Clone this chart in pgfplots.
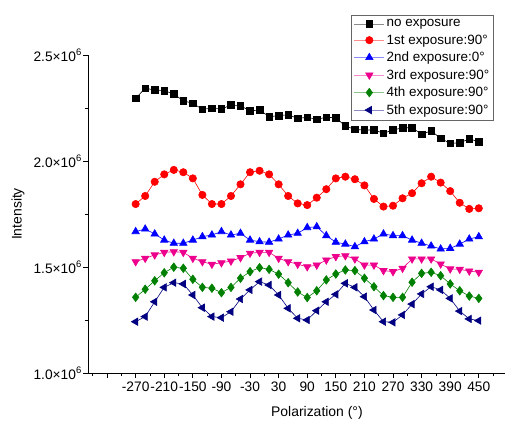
\documentclass[border=0pt]{standalone}
\usepackage{fontspec}
\setmainfont{Liberation Sans}
\usepackage{pgfplots}
\pgfplotsset{compat=1.18}
\usepackage{pgfplotstable}
\definecolor{navyc}{RGB}{0,0,128}
\definecolor{greenc}{RGB}{0,128,0}
\newcommand{\sixexp}{\raisebox{0.42em}{\fontsize{9.5}{9.5}\selectfont 6}}

\pgfplotstableread{
x black red blue mag green navy
-270 2296000 1797000 1667000 1525000 1357000 1242000
-250 2343000 1835000 1679000 1541000 1395000 1266000
-230 2335000 1902000 1656000 1557000 1435000 1336000
-210 2332000 1937000 1627000 1569000 1473000 1404000
-190 2316000 1958000 1612000 1572000 1499000 1426000
-170 2284000 1947000 1612000 1569000 1494000 1420000
-150 2272000 1918000 1627000 1541000 1442000 1368000
-130 2244000 1840000 1643000 1525000 1404000 1308000
-110 2249000 1797000 1651000 1513000 1400000 1266000
-90 2245000 1797000 1667000 1520000 1379000 1261000
-70 2264000 1835000 1651000 1528000 1404000 1289000
-50 2261000 1890000 1659000 1544000 1447000 1349000
-30 2236000 1947000 1627000 1565000 1478000 1392000
-10 2241000 1954000 1619000 1569000 1497000 1431000
10 2209000 1937000 1617000 1569000 1489000 1415000
30 2214000 1890000 1632000 1541000 1466000 1368000
50 2218000 1835000 1651000 1525000 1426000 1305000
70 2201000 1800000 1659000 1513000 1382000 1258000
90 2206000 1792000 1686000 1501000 1356000 1250000
110 2197000 1827000 1690000 1509000 1388000 1294000
130 2206000 1867000 1648000 1533000 1439000 1336000
150 2204000 1918000 1617000 1549000 1467000 1371000
170 2165000 1926000 1608000 1553000 1486000 1423000
190 2149000 1914000 1596000 1538000 1483000 1404000
210 2146000 1885000 1619000 1509000 1447000 1360000
230 2146000 1821000 1632000 1509000 1407000 1297000
250 2131000 1785000 1656000 1483000 1365000 1242000
270 2146000 1789000 1648000 1478000 1357000 1239000
290 2157000 1824000 1648000 1494000 1357000 1274000
310 2157000 1848000 1627000 1538000 1428000 1325000
330 2126000 1895000 1612000 1538000 1470000 1373000
350 2142000 1926000 1599000 1538000 1475000 1407000
370 2107000 1898000 1585000 1514000 1459000 1392000
390 2083000 1858000 1588000 1491000 1420000 1352000
410 2086000 1803000 1608000 1489000 1388000 1292000
430 2104000 1774000 1632000 1481000 1363000 1255000
450 2091000 1777000 1643000 1475000 1352000 1247000
}\data

\begin{document}
\begin{tikzpicture}
\useasboundingbox (-88bp,-50bp) rectangle (427bp,373bp);
\begin{axis}[
  scale only axis, width=417bp, height=318bp,
  at={(0,0)}, anchor=south west,
  xmin=-370, xmax=505, ymin=1000000, ymax=2500000,
  axis x line=bottom, axis y line=left,
  axis line style={-, line width=0.8pt},
  tick align=outside,
  major tick length=5bp, minor tick length=3bp,
  tick style={black, line width=0.7pt},
  xtick={-330,-270,...,450},
  xticklabels={,-270,-210,-150,-90,-30,30,90,150,210,270,330,390,450},
  minor xtick={-360,-300,...,480},
  ytick={1000000,1500000,2000000,2500000},
  yticklabels={1.0×10\sixexp,1.5×10\sixexp,2.0×10\sixexp,2.5×10\sixexp},
  minor ytick={1250000,1750000,2250000},
  scaled y ticks=false,
  ticklabel style={font=\fontsize{13.8}{16}\selectfont},
  xticklabel style={inner sep=1bp, yshift=-3bp},
  yticklabel style={inner sep=1.5bp},
  xlabel={Polarization (°)},
  ylabel={Intensity},
  xlabel style={at={(axis description cs:0.549,0)}, anchor=center, yshift=-40bp, font=\fontsize{14}{16}\selectfont},
  ylabel style={at={(axis description cs:-0.168,0.5)}, anchor=center, font=\fontsize{14}{16}\selectfont},
  every axis plot/.append style={line width=0.6pt},
  legend image code/.code={\draw[opacity=0.45] (0bp,0bp) -- (30bp,0bp); \draw[only marks] plot coordinates {(15bp,0bp)};},
  legend style={at={(rel axis cs:0.9736,1.126)}, anchor=north east, draw=black!60, line width=0.6pt,
    font=\fontsize{13.5}{15}\selectfont, cells={anchor=west}, row sep=2.3bp, inner sep=2.5bp},
]
\addplot[black, mark=square*, mark size=3.3] table[x=x, y=black] {\data};
\addlegendentry{no exposure}
\addplot[red, mark=*, mark size=3.7] table[x=x, y=red] {\data};
\addlegendentry{1st exposure:90°}
\addplot[blue, mark=triangle*, mark size=4.3] table[x=x, y=blue] {\data};
\addlegendentry{2nd exposure:0°}
\addplot[magenta, mark=triangle*, mark size=4.3, mark options={rotate=180}] table[x=x, y=mag] {\data};
\addlegendentry{3rd exposure:90°}
\addplot[greenc, mark=diamond*, mark size=4.3] table[x=x, y=green] {\data};
\addlegendentry{4th exposure:90°}
\addplot[navyc, mark=triangle*, mark size=4.3, mark options={rotate=90}] table[x=x, y=navy] {\data};
\addlegendentry{5th exposure:90°}
\end{axis}
\end{tikzpicture}
\end{document}
